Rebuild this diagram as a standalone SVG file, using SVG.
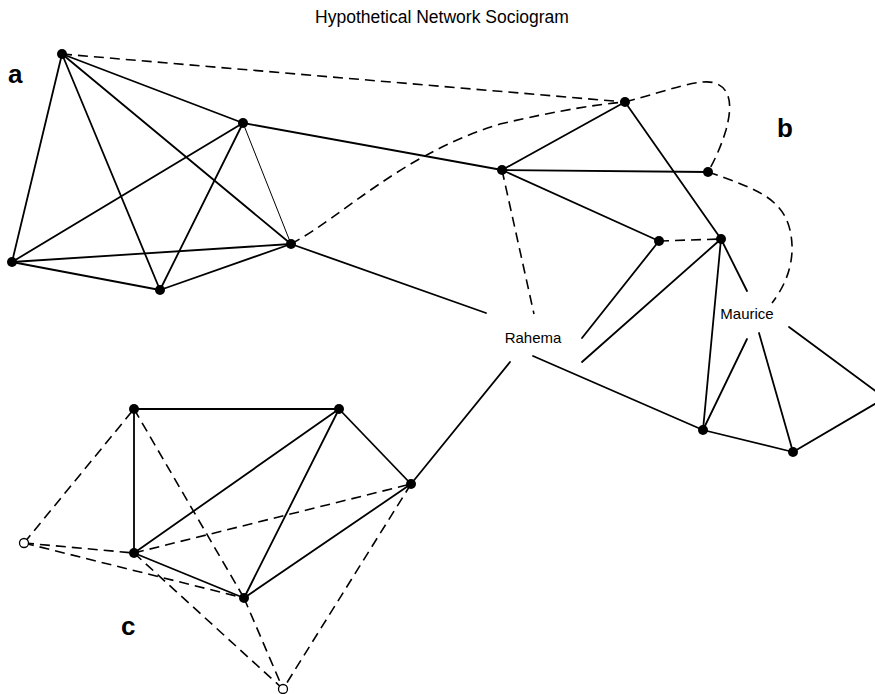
<svg xmlns="http://www.w3.org/2000/svg" width="875" height="694" viewBox="0 0 875 694">
<style>
.s{stroke:#000;stroke-width:1.8;fill:none;stroke-linecap:round}
.t{stroke:#000;stroke-width:1;fill:none}
.d{stroke:#000;stroke-width:1.6;fill:none;stroke-dasharray:10 6}
.n{fill:#000}
.o{fill:#fff;stroke:#000;stroke-width:1.3}
.lbl{font-family:"Liberation Sans",Arial,sans-serif;font-size:15px;fill:#000;text-anchor:middle}
.big{font-family:"Liberation Sans",Arial,sans-serif;font-size:26px;font-weight:bold;fill:#000}
</style>
<rect width="875" height="694" fill="#fff"/>
<text x="442" y="23" class="lbl" style="font-size:17.5px">Hypothetical Network Sociogram</text>
<text x="8" y="83" class="big">a</text>
<text x="777" y="137" class="big">b</text>
<text x="121" y="635" class="big">c</text>
<g id="connectors">
<!-- cluster a -->
<line class="s" x1="62" y1="54" x2="12" y2="262"/>
<line class="s" x1="62" y1="54" x2="160" y2="290"/>
<line class="s" x1="62" y1="54" x2="291" y2="244"/>
<line class="s" x1="62" y1="54" x2="243" y2="123"/>
<line class="s" x1="243" y1="123" x2="12" y2="262"/>
<line class="s" x1="243" y1="123" x2="160" y2="290"/>
<line class="t" x1="243" y1="123" x2="291" y2="244"/>
<line class="s" x1="12" y1="262" x2="291" y2="244"/>
<line class="s" x1="12" y1="262" x2="160" y2="290"/>
<line class="s" x1="160" y1="290" x2="291" y2="244"/>
<line class="d" x1="62" y1="54" x2="625" y2="102"/>
<line class="s" x1="243" y1="123" x2="502" y2="170"/>
<line class="s" x1="291" y1="244" x2="486" y2="313"/>
<path class="d" d="M291,244 C345,215 400,155 500,124 C560,110 600,104 625,102"/>
<!-- cluster b -->
<line class="s" x1="502" y1="170" x2="625" y2="102"/>
<line class="s" x1="502" y1="170" x2="708" y2="172"/>
<line class="s" x1="502" y1="170" x2="659" y2="241"/>
<line class="s" x1="625" y1="102" x2="721" y2="239"/>
<line class="d" x1="659" y1="241" x2="721" y2="239"/>
<line class="d" x1="502" y1="170" x2="534" y2="314"/>
<path class="d" d="M625,102 C670,90 700,78 715,83 C735,90 730,115 726,130 C720,150 712,165 708,172"/>
<path class="d" d="M708,172 C760,190 790,200 792,245 C793,270 782,290 772,303"/>
<line class="s" x1="659" y1="241" x2="582" y2="338"/>
<line class="s" x1="721" y1="239" x2="582" y2="362"/>
<line class="s" x1="721" y1="239" x2="703" y2="430"/>
<line class="s" x1="721" y1="239" x2="747" y2="291"/>
<line class="s" x1="747" y1="339" x2="703" y2="430"/>
<line class="s" x1="759" y1="333" x2="793" y2="452"/>
<line class="s" x1="789" y1="327" x2="885" y2="398"/>
<line class="s" x1="885" y1="398" x2="793" y2="452"/>
<line class="s" x1="703" y1="430" x2="793" y2="452"/>
<line class="s" x1="533" y1="356" x2="703" y2="430"/>
<line class="s" x1="510" y1="362" x2="411" y2="484"/>
<!-- cluster c -->
<line class="s" x1="134" y1="409" x2="339" y2="409"/>
<line class="s" x1="134" y1="409" x2="134" y2="553"/>
<line class="s" x1="339" y1="409" x2="134" y2="553"/>
<line class="s" x1="339" y1="409" x2="244" y2="598"/>
<line class="s" x1="339" y1="409" x2="411" y2="484"/>
<line class="s" x1="134" y1="553" x2="244" y2="598"/>
<line class="s" x1="244" y1="598" x2="411" y2="484"/>
<line class="d" x1="134" y1="553" x2="411" y2="484"/>
<line class="d" x1="134" y1="409" x2="244" y2="598"/>
<line class="d" x1="244" y1="598" x2="283" y2="689"/>
<line class="d" x1="24" y1="543" x2="134" y2="409"/>
<line class="d" x1="24" y1="543" x2="134" y2="553"/>
<line class="d" x1="24" y1="543" x2="244" y2="598"/>
<line class="d" x1="134" y1="553" x2="283" y2="689"/>
<line class="d" x1="411" y1="484" x2="283" y2="689"/>
</g>
<g id="a1"><circle class="n" cx="62" cy="54" r="5"/></g>
<g id="a2"><circle class="n" cx="243" cy="123" r="5"/></g>
<g id="a3"><circle class="n" cx="12" cy="262" r="5"/></g>
<g id="a4"><circle class="n" cx="160" cy="290" r="5"/></g>
<g id="a5"><circle class="n" cx="291" cy="244" r="5"/></g>
<g id="b1"><circle class="n" cx="625" cy="102" r="5"/></g>
<g id="b2"><circle class="n" cx="502" cy="170" r="5"/></g>
<g id="b3"><circle class="n" cx="708" cy="172" r="5"/></g>
<g id="b4"><circle class="n" cx="659" cy="241" r="5"/></g>
<g id="b5"><circle class="n" cx="721" cy="239" r="5"/></g>
<g id="b6"><circle class="n" cx="703" cy="430" r="5"/></g>
<g id="b7"><circle class="n" cx="793" cy="452" r="5"/></g>
<g id="rahema"><text x="533" y="343" class="lbl">Rahema</text></g>
<g id="maurice"><text x="747" y="319" class="lbl">Maurice</text></g>
<g id="c1"><circle class="n" cx="134" cy="409" r="5"/></g>
<g id="c2"><circle class="n" cx="339" cy="409" r="5"/></g>
<g id="c3"><circle class="n" cx="411" cy="484" r="5"/></g>
<g id="c4"><circle class="n" cx="134" cy="553" r="5"/></g>
<g id="c5"><circle class="n" cx="244" cy="598" r="5"/></g>
<g id="o1"><circle class="o" cx="24" cy="543" r="4.5"/></g>
<g id="o2"><circle class="o" cx="283" cy="689" r="4.5"/></g>
</svg>
